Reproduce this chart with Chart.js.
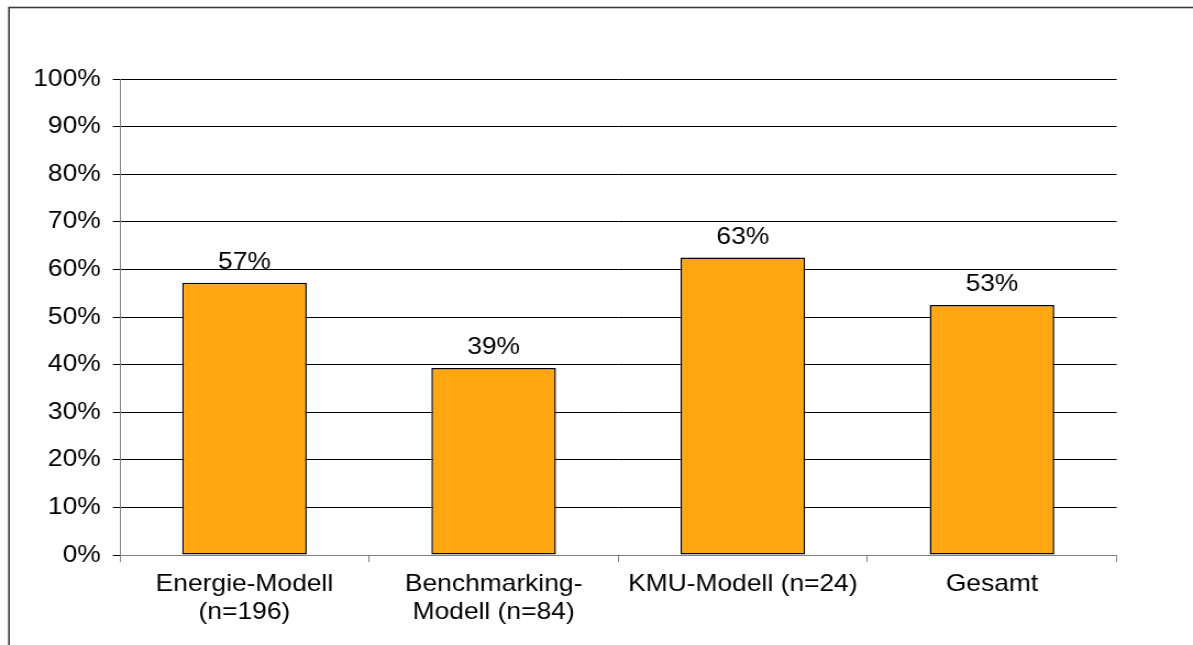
<!DOCTYPE html>
<html>
<head>
<meta charset="utf-8">
<script src="https://cdn.jsdelivr.net/npm/chart.js@4/dist/chart.umd.min.js"></script>
<style>
  body { margin: 0; background: #fff; }
</style>
</head>
<body>
<!-- the reference is slightly stretched horizontally, so the canvas is drawn narrower and scaled by CSS -->
<canvas id="chart" width="1085" height="645" style="display:block;width:1193px;height:645px"></canvas>
<script>
// Daten
const categories = [
    ['Energie-Modell', '(n=196)'],
    ['Benchmarking-', 'Modell (n=84)'],
    ['KMU-Modell (n=24)'],
    ['Gesamt']
];
const values = [0.572, 0.393, 0.625, 0.525];
const valueLabels = ['57%', '39%', '63%', '53%'];
const yTicks = [0, 0.1, 0.2, 0.3, 0.4, 0.5, 0.6, 0.7, 0.8, 0.9, 1.0];

const SX = 1193 / 1085; // horizontal stretch
const FONT = '"Liberation Sans", Arial, sans-serif';

// Rahmen um die ganze Grafik (rechts und unten abgeschnitten)
const framePlugin = {
    id: 'frame',
    beforeDraw(chart) {
        const ctx = chart.ctx;
        ctx.save();
        ctx.strokeStyle = '#3a3a3a';
        ctx.lineWidth = 1.6;
        ctx.strokeRect(9 / SX, 7.5, 2000, 2000);
        ctx.restore();
    }
};

// Prozentwerte über den Balken
const valueLabelPlugin = {
    id: 'valueLabels',
    afterDatasetsDraw(chart) {
        const ctx = chart.ctx;
        const meta = chart.getDatasetMeta(0);
        ctx.save();
        ctx.font = '24px ' + FONT;
        ctx.fillStyle = '#000';
        ctx.textAlign = 'center';
        ctx.textBaseline = 'alphabetic';
        meta.data.forEach(function(bar, i) {
            ctx.fillText(valueLabels[i], bar.x, bar.y - 14);
        });
        ctx.restore();
    }
};

new Chart(document.getElementById('chart'), {
    type: 'bar',
    data: {
        labels: categories,
        datasets: [{
            data: values,
            backgroundColor: '#FFA611',
            borderColor: '#000000',
            borderWidth: 1.5,
            borderSkipped: false,
            categoryPercentage: 1.0,
            barPercentage: 0.5
        }]
    },
    options: {
        responsive: false,
        devicePixelRatio: 1,
        animation: false,
        layout: {
            padding: { top: 79, right: 69.5, bottom: 0, left: 0 }
        },
        plugins: {
            legend: { display: false },
            tooltip: { enabled: false }
        },
        scales: {
            x: {
                grid: {
                    offset: true,
                    drawOnChartArea: false,
                    drawTicks: true,
                    tickLength: 7,
                    color: '#808080'
                },
                border: { color: '#808080', width: 1 },
                ticks: {
                    color: '#000',
                    padding: 9,
                    maxRotation: 0,
                    autoSkip: false,
                    font: { family: FONT, size: 24, lineHeight: 1.15 }
                },
                afterFit: function(scale) { scale.height = 90; }
            },
            y: {
                min: 0,
                max: 1,
                afterBuildTicks: function(scale) {
                    scale.ticks = yTicks.map(function(v) { return { value: v }; });
                },
                grid: {
                    color: '#000',
                    lineWidth: 1,
                    tickLength: 6.4,
                    tickColor: '#000'
                },
                border: { color: '#808080', width: 1 },
                ticks: {
                    color: '#000',
                    padding: 11,
                    font: { family: FONT, size: 24 },
                    callback: function(value) {
                        return Math.round(value * 100) + '%';
                    }
                },
                afterFit: function(scale) { scale.width = 109; }
            }
        }
    },
    plugins: [framePlugin, valueLabelPlugin]
});
</script>
</body>
</html>
